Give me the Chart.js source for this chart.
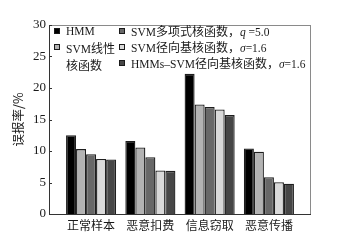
<!DOCTYPE html>
<html><head><meta charset="utf-8">
<script src="https://cdn.jsdelivr.net/npm/chart.js@4/dist/chart.umd.min.js"></script>
<style>
body{margin:0;background:#fff}
#w{position:relative;width:337px;height:247px;overflow:hidden}
.lg{position:absolute;font-family:"Liberation Serif","Noto Sans CJK SC",serif;font-size:11.5px;color:#1a1a1a;white-space:nowrap;line-height:14px}
.lg span.z{font-family:"Noto Sans CJK SC";font-size:12px}
.bx{position:absolute;width:4px;height:4px;border:1px solid #1a1a1a}
</style></head>
<body><div id="w"><canvas id="c" style="width:337px;height:247px"></canvas><div id="legend"></div></div>
<script>
const categories = ['正常样本', '恶意扣费', '信息窃取', '恶意传播'];
const seriesNames = ['HMM', 'SVM线性核函数', 'SVM多项式核函数，q =5.0', 'SVM径向基核函数，σ=1.6', 'HMMs-SVM径向基核函数，σ=1.6'];
const hmm       = [12.5, 11.6, 22.25, 10.4];
const svmLinear = [10.3, 10.55, 17.4, 9.9];
const svmPoly   = [9.5, 9.0, 17.0, 5.85];
const svmRbf    = [8.75, 6.9, 16.6, 5.05];
const hmmsSvm   = [8.65, 6.85, 15.7, 4.8];
const yTicks = [0, 5, 10, 15, 20, 25, 30];
const colors = ['#000000', '#b3b3b3', '#686868', '#d9d9d9', '#464646'];

const seriesValues = [hmm, svmLinear, svmPoly, svmRbf, hmmsSvm];
const datasets = seriesValues.map((vals, i) => ({
  label: seriesNames[i],
  data: vals.map((v, j) => ({x: j + 1, y: v})),
  backgroundColor: colors[i],
  borderColor: '#1e1e1e',
  borderWidth: 1.3,
  borderSkipped: 'bottom',
  barPercentage: 1.0,
  categoryPercentage: 0.845
}));

const frame = {
  id: 'frame',
  afterDraw(chart) {
    const {ctx, chartArea: a} = chart;
    ctx.save();
    ctx.strokeStyle = '#8a8a8a';
    ctx.lineWidth = 1;
    ctx.strokeRect(a.left + 0.5, a.top + 0.5, a.right - a.left - 1, a.bottom - a.top);
    ctx.strokeStyle = '#333';
    ctx.beginPath();
    ctx.moveTo(a.left + 0.5, a.top); ctx.lineTo(a.left + 0.5, a.bottom + 0.5);
    ctx.lineTo(a.right, a.bottom + 0.5);
    const ys = chart.scales.y;
    yTicks.forEach(t => { const p = Math.round(ys.getPixelForValue(t)) + 0.5; ctx.moveTo(a.left, p); ctx.lineTo(a.left + 3, p); });
    ctx.stroke();
    ctx.restore();
  }
};

new Chart(document.getElementById('c'), {
  type: 'bar',
  data: {datasets},
  options: {
    responsive: false,
    animation: false,
    layout: {padding: {top: 25, right: 26, left: 0, bottom: 0}},
    plugins: {legend: {display: false}, tooltip: {enabled: false}},
    scales: {
      x: {
        type: 'linear', min: 0.29, max: 4.71, offset: false,
        afterBuildTicks: s => { s.ticks = categories.map((c, i) => ({value: i + 1})); },
        afterFit: s => { s.height = 33; },
        grid: {display: false, drawTicks: false},
        border: {display: false},
        ticks: {
          callback: v => categories[v - 1] || '',
          font: {family: '"Noto Sans CJK SC"', size: 12},
          color: '#1a1a1a', padding: 4, autoSkip: false, maxRotation: 0
        }
      },
      y: {
        min: 0, max: 30,
        afterBuildTicks: s => { s.ticks = yTicks.map(v => ({value: v})); },
        afterFit: s => { s.width = 49; },
        grid: {display: false, drawTicks: false},
        border: {display: false},
        title: {display: true, text: '误报率/%', font: {family: '"Noto Sans CJK SC"', size: 12.5}, color: '#1a1a1a', padding: {top: 11, bottom: 0}},
        ticks: {font: {family: '"Liberation Serif"', size: 13}, color: '#1a1a1a', padding: 3}
      }
    }
  },
  plugins: [frame]
});

// legend overlay
const legendItems = [
  {i: 0, box: [54, 28], text: [66, 24], html: 'HMM'},
  {i: 1, box: [54, 44], text: [66, 40], html: 'SVM<span class="z">线性</span><br><span class="z">核函数</span>', lh: 16},
  {i: 2, box: [119, 28], text: [131, 24], html: 'SVM<span class="z">多项式核函数，</span><i>q</i> =5.0'},
  {i: 3, box: [119, 44], text: [131, 40], html: 'SVM<span class="z">径向基核函数，</span><i>σ</i>=1.6'},
  {i: 4, box: [119, 60], text: [131, 56], html: 'HMMs–SVM<span class="z">径向基核函数，</span><i>σ</i>=1.6'}
];
const lg = document.getElementById('legend');
legendItems.forEach(it => {
  const b = document.createElement('div');
  b.className = 'bx';
  b.style.left = it.box[0] + 'px'; b.style.top = it.box[1] + 'px';
  b.style.background = colors[it.i];
  lg.appendChild(b);
  const t = document.createElement('div');
  t.className = 'lg';
  t.style.left = it.text[0] + 'px'; t.style.top = it.text[1] + 'px';
  if (it.lh) t.style.lineHeight = it.lh + 'px';
  t.innerHTML = it.html;
  lg.appendChild(t);
});
</script>
</body></html>
